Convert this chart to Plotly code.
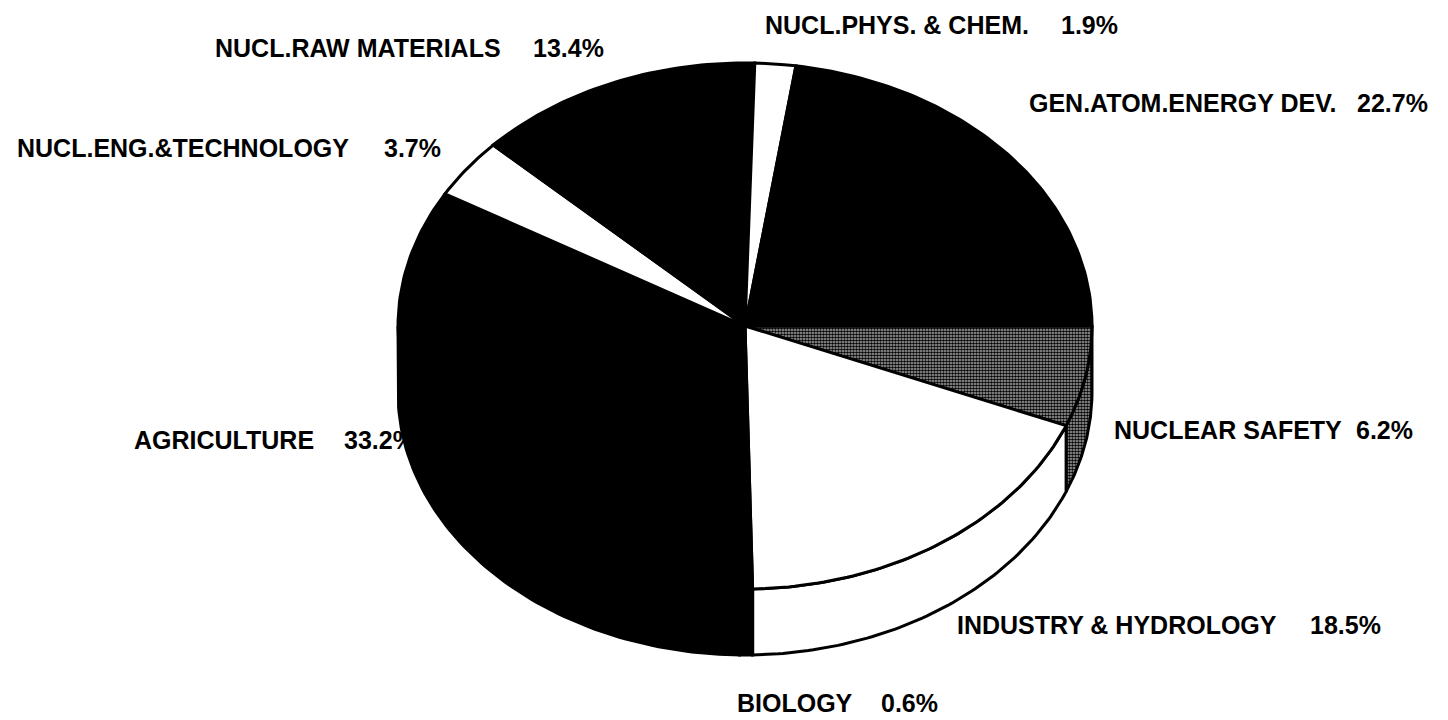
import numpy as np
import plotly.graph_objects as go

# ---- data (clockwise from 3 o'clock) ----
categories = ["NUCLEAR SAFETY", "INDUSTRY & HYDROLOGY", "BIOLOGY", "AGRICULTURE",
              "NUCL.ENG.&TECHNOLOGY", "NUCL.RAW MATERIALS", "NUCL.PHYS. & CHEM.",
              "GEN.ATOM.ENERGY DEV."]
shares = [6.2, 18.5, 0.6, 33.2, 3.7, 13.4, 1.9, 22.7]

# ---- styles ----
fills = ["pattern", "white", "black", "black", "white", "black", "white", "black"]
# label layout: (name left x, percent right x, y) in pixels
label_pos = [(1112, 1415, 430), (955, 1383, 625), (735, 940, 703), (132, 417, 440),
             (15, 443, 148), (213, 606, 48), (763, 1120, 25), (1027, 1430, 103)]

W, H = 1448, 720
CX, CY, RX, RY, DEPTH = 745, 326, 347, 263, 66

total = sum(shares)
cum = np.concatenate([[0], np.cumsum(shares)])
starts = -cum[:-1] / total * 360.0
ends = -cum[1:] / total * 360.0


def ell(theta_deg, dy=0):
    t = np.radians(theta_deg)
    return CX + RX * np.cos(t), CY - RY * np.sin(t) + dy


fig = go.Figure()


def add_poly(xs, ys, style):
    kw = dict(x=xs, y=ys, mode="lines", fill="toself",
              line=dict(color="black", width=3), hoverinfo="skip", showlegend=False)
    if style == "pattern":
        kw["fillcolor"] = "white"
        kw["fillpattern"] = dict(shape=".", bgcolor="#b0b0b0", fgcolor="black",
                                 size=3, solidity=0.6, fillmode="replace")
    else:
        kw["fillcolor"] = style
    fig.add_trace(go.Scatter(**kw))


# side faces (front half only)
for s, e, st in zip(starts, ends, fills):
    hi, lo = min(s, 0), max(e, -180)
    if hi > lo:
        th = np.linspace(hi, lo, 80)
        tx, ty = ell(th)
        bx, by = ell(th[::-1], DEPTH)
        add_poly(np.concatenate([tx, bx, tx[:1]]), np.concatenate([ty, by, ty[:1]]), st)

# top faces
for s, e, st in zip(starts, ends, fills):
    th = np.linspace(s, e, max(int(abs(s - e)), 2) + 2)
    ax, ay = ell(th)
    add_poly(np.concatenate([[CX], ax, [CX]]), np.concatenate([[CY], ay, [CY]]), st)

font = dict(family="Liberation Sans, Arial, sans-serif", size=25, color="black")
for name, v, (xl, xr, y) in zip(categories, shares, label_pos):
    fig.add_annotation(x=xl, y=y, xref="x", yref="y", text=f"<b>{name}</b>",
                       showarrow=False, xanchor="left", yanchor="middle", font=font)
    fig.add_annotation(x=xr, y=y, xref="x", yref="y", text=f"<b>{v:.1f}%</b>",
                       showarrow=False, xanchor="right", yanchor="middle", font=font)

fig.update_layout(width=W, height=H, margin=dict(l=0, r=0, t=0, b=0),
                  paper_bgcolor="white", plot_bgcolor="white",
                  xaxis=dict(range=[0, W], visible=False, fixedrange=True),
                  yaxis=dict(range=[H, 0], visible=False, fixedrange=True))
fig.write_html("out.html", config={"displayModeBar": False},
               post_script="document.body.style.margin='0';document.body.style.overflow='hidden';")
